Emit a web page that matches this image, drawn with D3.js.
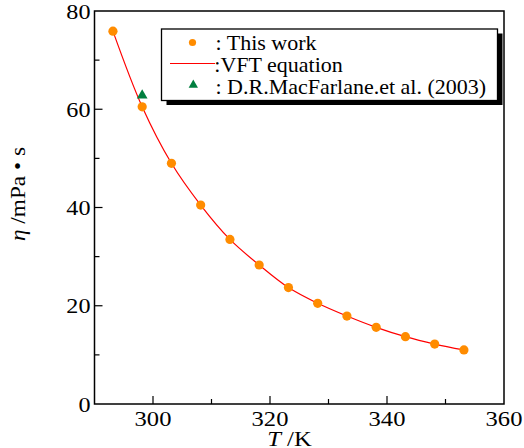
<!DOCTYPE html>
<html>
<head>
<meta charset="utf-8">
<script src="https://cdn.jsdelivr.net/npm/d3@7"></script>
<style>
  html, body { margin: 0; padding: 0; background: #fff; }
  svg { display: block; }
</style>
</head>
<body>
<svg id="chart" width="524" height="448"></svg>
<script>
// Viscosity of the ionic liquid vs temperature
const temperatures = [293.15, 298.15, 303.15, 308.15, 313.15, 318.15, 323.15, 328.15, 333.15, 338.15, 343.15, 348.15, 353.15];
const viscosities = [75.9, 60.5, 49.0, 40.5, 33.5, 28.3, 23.7, 20.5, 17.9, 15.6, 13.7, 12.2, 11.0];
const refTemperatures = [298.15];
const refViscosities = [63.0];
const xTicks = [300, 320, 340, 360];
const xMinorTicks = [310, 330, 350];
const yTicks = [0, 20, 40, 60, 80];
const yMinorTicks = [10, 30, 50, 70];
const legendLabels = [": This work", ":VFT equation", ": D.R.MacFarlane.et al. (2003)"];

const FONT = "'Liberation Serif', 'Times New Roman', Times, 'DejaVu Serif', serif";

const svg = d3.select("#chart").attr("font-family", FONT);
const m = { left: 94.5, right: 504, top: 11, bottom: 404 };

const x = d3.scaleLinear().domain([290, 360]).range([m.left, m.right]);
const y = d3.scaleLinear().domain([0, 80]).range([m.bottom, m.top]);

const orange = "#ff8c00";
const green = "#007f3f";

// text placed with a slight horizontal stretch
function label(parent, px, py, anchor, size, sx, parts, rot) {
  const t = parent.append("text")
    .attr("transform", `translate(${px},${py})${rot ? ` rotate(${rot})` : ""} scale(${sx},1)`)
    .attr("text-anchor", anchor).attr("font-size", size);
  parts.forEach(p => {
    const s = t.append("tspan").text(p.t);
    if (p.i) s.attr("font-style", "italic");
  });
  return t;
}

// frame
svg.append("rect")
  .attr("x", m.left).attr("y", m.top)
  .attr("width", m.right - m.left).attr("height", m.bottom - m.top)
  .attr("fill", "none").attr("stroke", "#000").attr("stroke-width", 1.5);

// x axis ticks (inward)
const xAxis = svg.append("g").attr("transform", `translate(0,${m.bottom})`);
xAxis.selectAll("line.major").data(xTicks.filter(t => t < 360)).join("line")
  .attr("x1", d => x(d)).attr("x2", d => x(d)).attr("y1", 0).attr("y2", -8)
  .attr("stroke", "#000").attr("stroke-width", 1.2);
xAxis.selectAll("line.minor").data(xMinorTicks).join("line")
  .attr("x1", d => x(d)).attr("x2", d => x(d)).attr("y1", 0).attr("y2", -5)
  .attr("stroke", "#000").attr("stroke-width", 1.2);
xTicks.forEach(d => label(xAxis, x(d), 22, "middle", 21, 1.17, [{ t: String(d) }]));

// y axis ticks (inward)
const yAxis = svg.append("g").attr("transform", `translate(${m.left},0)`);
yAxis.selectAll("line.major").data(yTicks.filter(t => t > 0 && t < 80)).join("line")
  .attr("x1", 0).attr("x2", 8).attr("y1", d => y(d)).attr("y2", d => y(d))
  .attr("stroke", "#000").attr("stroke-width", 1.2);
yAxis.selectAll("line.minor").data(yMinorTicks).join("line")
  .attr("x1", 0).attr("x2", 5).attr("y1", d => y(d)).attr("y2", d => y(d))
  .attr("stroke", "#000").attr("stroke-width", 1.2);
yTicks.forEach(d => label(yAxis, -4, y(d) + 7.5, "end", 21, 1.15, [{ t: String(d) }]));

// axis titles
label(svg, 289.5, 445.5, "middle", 22, 1.12, [{ t: "T", i: true }, { t: " /K" }]);
label(svg, 25, 194, "middle", 22, 1.06, [{ t: "η", i: true }, { t: " /mPa • s" }], -90);

// VFT fit curve through the measured points
const line = d3.line()
  .x((d, i) => x(temperatures[i]))
  .y(d => y(d))
  .curve(d3.curveCatmullRom.alpha(0.5));
svg.append("path").datum(viscosities)
  .attr("d", line).attr("fill", "none")
  .attr("stroke", "#ff0000").attr("stroke-width", 1.2);

// measured points
svg.append("g").selectAll("circle").data(viscosities).join("circle")
  .attr("cx", (d, i) => x(temperatures[i])).attr("cy", d => y(d))
  .attr("r", 4.6).attr("fill", orange);

// literature point
const tri = d3.symbol().type(d3.symbolTriangle).size(50);
svg.append("g").selectAll("path").data(refViscosities).join("path")
  .attr("d", tri)
  .attr("transform", (d, i) => `translate(${x(refTemperatures[i])},${y(d) + 1})`)
  .attr("fill", green);

// legend with drop shadow
const lg = svg.append("g");
const lx = 161.5, ly = 29, lw = 336, lh = 71.5;
lg.append("rect").attr("x", lx + 5).attr("y", ly + 4.5).attr("width", lw).attr("height", lh).attr("fill", "#000");
lg.append("rect").attr("x", lx).attr("y", ly).attr("width", lw).attr("height", lh)
  .attr("fill", "#fff").attr("stroke", "#000").attr("stroke-width", 1.3);
lg.append("circle").attr("cx", 192.5).attr("cy", 42.5).attr("r", 3.6).attr("fill", orange);
lg.append("line").attr("x1", 170).attr("x2", 215).attr("y1", 63.5).attr("y2", 63.5)
  .attr("stroke", "#ff0000").attr("stroke-width", 1.2);
lg.append("path").attr("d", d3.symbol().type(d3.symbolTriangle).size(38))
  .attr("transform", "translate(193.3,85)").attr("fill", green);
const lxText = [215.5, 214.3, 215.5];
const lyText = [49.7, 72, 93.7];
lg.selectAll("text").data(legendLabels).join("text")
  .attr("x", (d, i) => lxText[i]).attr("y", (d, i) => lyText[i])
  .attr("font-size", 22).text(d => d);
</script>
</body>
</html>
